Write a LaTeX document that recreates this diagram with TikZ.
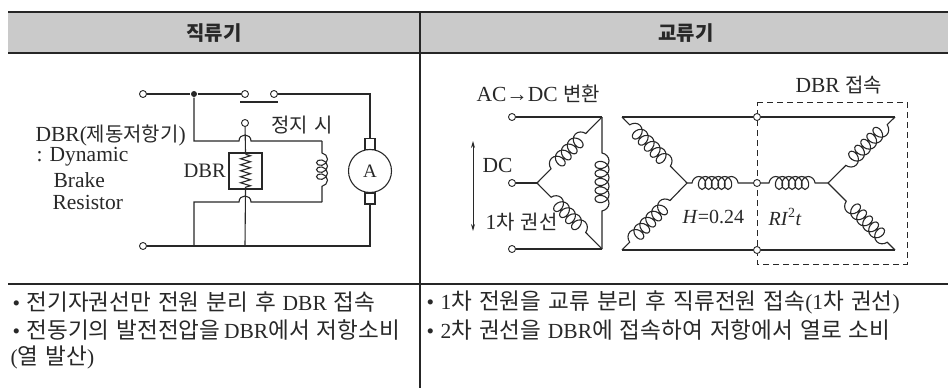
\documentclass[tikz,border=0pt]{standalone}
\usepackage{fontspec}
\setmainfont{Liberation Serif}
\newfontfamily\kr{Noto Sans CJK KR}[Scale=1.05, WordSpace=1.4]
\newcommand\gap{\hspace{0.3em}}
\newcommand\krs[1]{{\kr\fontsize{19}{22}\selectfont #1}}
\usetikzlibrary{decorations.pathmorphing, arrows.meta}
\definecolor{hdr}{RGB}{202,202,202}
\definecolor{ink}{RGB}{40,40,40}
\begin{document}
\begin{tikzpicture}[x=1pt,y=-1pt, line width=1.1pt, draw=ink, text=ink,
  term/.style={circle, draw, fill=white, inner sep=0pt, minimum size=7pt, line width=0.9pt},
  dotj/.style={circle, fill=ink, inner sep=0pt, minimum size=6pt},
  brush/.style={draw, fill=white, inner sep=0pt, minimum width=10pt, minimum height=11pt},
  coilseg/.style n args={3}{decorate, decoration={coil, aspect=0.8, amplitude=7pt, segment length=#1, pre length=#2, post length=#3}},
  lbl/.style={inner sep=0pt, font=\fontsize{21.5}{24}\selectfont},
  lblw/.style={lbl, anchor=west},
  body/.style={inner sep=0pt, anchor=west, font=\fontsize{21.5}{25}\selectfont},
  hdrtxt/.style={inner sep=0pt, font=\fontsize{19}{24}\selectfont\kr\bfseries},
  tline/.style={line width=1.8pt, draw=black!85}]
\useasboundingbox (0,0) rectangle (948,388);
% ---------- table ----------
\fill[hdr] (8,12) rectangle (948,53);
\draw[tline] (8,12) -- (948,12);
\draw[tline] (8,53) -- (948,53);
\draw[line width=1.5pt, draw=black!85] (8,284) -- (948,284);
\draw[line width=1.2pt, draw=black!85] (420,12) -- (420,388);
\node[hdrtxt] (h1) at (214,33) {직류기};
\node[hdrtxt] (h2) at (686,33) {교류기};
% ---------- DC circuit ----------
\node[term] (t1) at (143,94) {};
\node[dotj] (j1) at (194,94) {};
\node[term] (s1) at (245,94) {};
\node[term] (s2) at (274,94) {};
\node[term] (s3) at (245,123) {};
\node[term] (t2) at (143,246) {};
\coordinate (c1) at (370,94);
\coordinate (c2) at (370,246);
\coordinate (j2) at (194,141);
\coordinate (ltop) at (322,141);
\coordinate (lbot) at (322,202);
\coordinate (j3) at (194,202);
\coordinate (b1) at (194,246);
\coordinate (b2) at (245,246);
\coordinate (sw1) at (240,102);
\coordinate (sw2) at (278,102);
\node[brush] (mb1) at (370,144) {};
\node[brush] (mb2) at (370,198.5) {};
\node[circle, draw, inner sep=0pt, minimum size=43pt, font=\fontsize{19}{20}\selectfont] (M) at (370,171) {A};
\node[draw, line width=1.5pt, minimum width=33pt, minimum height=36pt, inner sep=0pt] (R) at (245.5,171) {};
\draw (t1) -- (j1) -- (s1);
\draw (sw1) -- (sw2);
\draw (s2) -- (c1) -- (mb1);
\draw (mb2) -- (c2) -- (t2);
\draw (j1) -- (j2) -- (239,141) .. controls (239,133) and (251,133) .. (251,141) -- (ltop);
\draw[decorate, decoration={coil, aspect=0.8, amplitude=5.5pt, segment length=7pt, pre length=12pt, post length=12pt}] (ltop) -- (lbot);
\draw (lbot) -- (251,202) .. controls (251,194) and (239,194) .. (239,202) -- (j3) -- (b1);
\draw (s3) -- (R.north);
\draw (R.south) -- (b2);
\draw[decorate, decoration={zigzag, segment length=6pt, amplitude=5pt}] ([yshift=-2pt]R.north) -- ([yshift=2pt]R.south);
\node[lblw] (l1) at (35,135) {DBR(\krs{제동저항기})};
\node[lblw] (l2) at (36,157) {: Dynamic};
\node[lblw] (l3) at (53,180) {Brake};
\node[lblw] (l4) at (52,202) {Resistor};
\node[lblw, font=\fontsize{20.5}{24}\selectfont] (l5) at (183,171) {DBR};
\node[lblw] (l6) at (271,125) {\krs{정지 시}};
% ---------- AC circuits ----------
\draw[dashed, dash pattern=on 6pt off 4pt, line width=1pt] (757,102) -- (907,102) -- (907,264) -- (757,264) -- cycle;
\node[term] (ta) at (512,117) {};
\node[term] (tb) at (512,183) {};
\node[term] (tc) at (512,249) {};
\coordinate (ka) at (602,117);
\coordinate (kc) at (602,249);
\coordinate (ys) at (537,183);
\draw (ta) -- (ka);
\draw (tc) -- (kc);
\draw (tb) -- (ys);
\draw[coilseg={8.5pt}{36pt}{36pt}] (ka) -- (kc);
\draw[coilseg={8.5pt}{20pt}{20pt}] (ys) -- (ka);
\draw[coilseg={8.5pt}{20pt}{20pt}] (ys) -- (kc);
\coordinate (aA) at (473,141);
\coordinate (aB) at (473,231);
\draw[line width=0.9pt, {Stealth[length=7pt,width=4pt]}-{Stealth[length=7pt,width=4pt]}] (aA) -- (aB);
\node[lblw] (a1) at (476,94) {AC→DC \krs{변환}};
\node[lblw] (a2) at (482,165) {DC};
\node[lblw] (a3) at (485,222) {1\krs{차 권선}};
\node[term] (ct) at (757,117) {};
\node[term] (cm) at (757,183) {};
\node[term] (cb) at (757,250) {};
\coordinate (bl1) at (622,117);
\coordinate (bl2) at (622,250);
\coordinate (st1) at (687,183);
\coordinate (st2) at (828,183);
\coordinate (br1) at (895,117);
\coordinate (br2) at (895,250);
\draw (bl1) -- (ct) -- (br1);
\draw (bl2) -- (cb) -- (br2);
\draw[coilseg={8.5pt}{11pt}{20pt}] (bl1) -- (st1);
\draw[coilseg={8.5pt}{11pt}{20pt}] (bl2) -- (st1);
\draw[coilseg={8.5pt}{11pt}{20pt}] (br1) -- (st2);
\draw[coilseg={8.5pt}{11pt}{20pt}] (br2) -- (st2);
\draw[decorate, decoration={coil, aspect=0.8, amplitude=6.5pt, segment length=6.5pt, pre length=5pt, post length=9pt}] (st1) -- (cm);
\draw[decorate, decoration={coil, aspect=0.8, amplitude=6.5pt, segment length=6.5pt, pre length=8pt, post length=7pt}] (cm) -- (st2);
\node[lblw, font=\fontsize{20}{24}\selectfont] (a4) at (682,217) {\textit{H}=0.24};
\node[lblw, font=\fontsize{20}{24}\selectfont] (a5) at (768,217) {\textit{RI}\textsuperscript{2}\textit{t}};
\node[lblw] (a6) at (795,85) {DBR \krs{접속}};
% ---------- body text ----------
\node[body] (p1) at (12,302) {•\gap{\kr 전기자권선만 전원 분리 후}\gap DBR\gap{\kr 접속}};
\node[body] (p2) at (12,330) {•\gap{\kr 전동기의 발전전압을}\,DBR{\kr 에서 저항소비}};
\node[body] (p3) at (10,357) {({\kr 열 발산})};
\node[body] (q1) at (426,302) {•\gap 1{\kr 차 전원을 교류 분리 후 직류전원 접속}(1{\kr 차 권선})};
\node[body] (q2) at (426,330) {•\gap 2{\kr 차 권선을}\gap DBR{\kr 에 접속하여 저항에서 열로 소비}};
\end{tikzpicture}
\end{document}
